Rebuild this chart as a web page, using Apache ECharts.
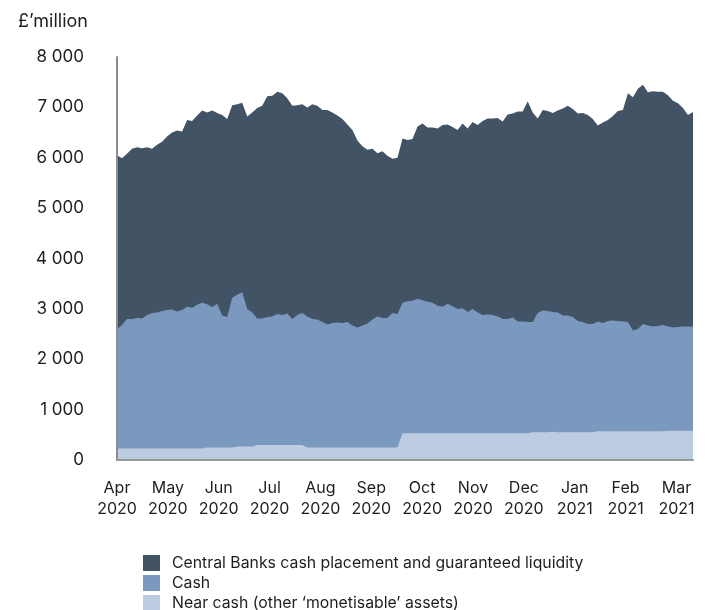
<!DOCTYPE html>
<html>
<head>
<meta charset="utf-8">
<script src="https://cdn.jsdelivr.net/npm/echarts@6/dist/echarts.min.js"></script>
<style>
  html, body { margin: 0; padding: 0; background: #fff; }
  #chart { width: 705px; height: 610px; }
</style>
</head>
<body>
<div id="chart"></div>
<script>
// month labels, evenly spaced along the x axis
const months = ['Apr\n2020', 'May\n2020', 'Jun\n2020', 'Jul\n2020', 'Aug\n2020', 'Sep\n2020',
    'Oct\n2020', 'Nov\n2020', 'Dec\n2020', 'Jan\n2021', 'Feb\n2021', 'Mar\n2021'];
const pointsPerMonth = 10.154; // samples between two month labels

// £m, stack tops (total, cash + near cash, near cash)
const totalLiquidity = [
    6050, 5990, 6080, 6180, 6210, 6190, 6210, 6180, 6260, 6320,
    6420, 6500, 6540, 6520, 6750, 6730, 6840, 6940, 6900, 6940,
    6890, 6850, 6770, 7040, 7060, 7090, 6820, 6900, 6990, 7030,
    7220, 7230, 7310, 7280, 7180, 7030, 7040, 7060, 7000, 7060,
    7030, 6950, 6950, 6900, 6840, 6770, 6660, 6550, 6340, 6230,
    6160, 6180, 6090, 6130, 6040, 5980, 6000, 6380, 6350, 6370,
    6620, 6680, 6600, 6600, 6580, 6650, 6660, 6610, 6550, 6680,
    6580, 6710, 6650, 6730, 6780, 6780, 6790, 6720, 6860, 6880,
    6920, 6920, 7120, 6900, 6780, 6950, 6930, 6890, 6940, 6980,
    7030, 6970, 6880, 6890, 6850, 6770, 6640, 6700, 6750, 6830,
    6930, 6950, 7280, 7200, 7370, 7450, 7300, 7320, 7310, 7310,
    7240, 7130, 7080, 6990, 6850, 6910
];
const cashAndNearCash = [
    2600, 2680, 2800, 2800, 2820, 2810, 2880, 2920, 2930, 2960,
    2980, 2990, 2950, 2980, 3040, 3020, 3080, 3120, 3090, 3030,
    3100, 2870, 2840, 3220, 3280, 3330, 3000, 2930, 2810, 2810,
    2840, 2850, 2900, 2880, 2910, 2800, 2880, 2920, 2850, 2800,
    2790, 2740, 2690, 2720, 2730, 2720, 2740, 2670, 2630, 2670,
    2710, 2790, 2850, 2820, 2820, 2920, 2900, 3120, 3150, 3160,
    3200, 3170, 3140, 3120, 3060, 3040, 3100, 3050, 3000, 3010,
    2940, 3000, 2930, 2880, 2890, 2880, 2850, 2800, 2800, 2830,
    2750, 2750, 2740, 2740, 2920, 2970, 2960, 2940, 2930, 2870,
    2870, 2840, 2760, 2740, 2700, 2700, 2750, 2720, 2760, 2770,
    2760, 2750, 2740, 2570, 2600, 2700, 2670, 2650, 2660, 2680,
    2650, 2630, 2640, 2650, 2650, 2650
];
const nearCash = [
    230, 230, 230, 230, 230, 230, 230, 230, 230, 230,
    230, 230, 230, 230, 230, 230, 230, 230, 250, 250,
    250, 250, 250, 250, 270, 270, 270, 270, 300, 300,
    300, 300, 300, 300, 300, 300, 300, 300, 250, 250,
    250, 250, 250, 250, 250, 250, 250, 250, 250, 250,
    250, 250, 250, 250, 250, 250, 250, 530, 530, 530,
    530, 530, 530, 530, 530, 530, 530, 530, 530, 530,
    530, 530, 530, 530, 530, 530, 530, 530, 530, 530,
    530, 530, 530, 550, 550, 550, 550, 560, 550, 550,
    550, 550, 550, 550, 550, 550, 570, 570, 570, 570,
    570, 570, 570, 570, 570, 570, 570, 570, 570, 570,
    580, 580, 580, 580, 580, 580
];

const textColor = '#1e1e1e';
const axisGray = '#8c8c8c';
const fontFamily = 'Inter, "Noto Sans", sans-serif';
const legendNames = ['Central Banks cash placement and guaranteed liquidity', 'Cash',
    'Near cash (other ‘monetisable’ assets)'];

function toPoints(arr) {
    return arr.map(function(v, i) {
        return [i, v];
    });
}

// arrays already hold the stack tops, so each area is filled down to zero,
// biggest first and the smaller ones drawn over it
function areaSeries(name, data, color, z) {
    return {
        name: name,
        type: 'line',
        z: z,
        data: toPoints(data),
        showSymbol: false,
        symbol: 'none',
        lineStyle: {width: 0},
        itemStyle: {color: color},
        areaStyle: {color: color, opacity: 1, origin: 'start'}
    };
}

const chart = echarts.init(document.getElementById('chart'));
const option = {
    animation: false,
    textStyle: {fontFamily: fontFamily},
    title: {
        text: '£’million',
        left: 13,
        top: 8,
        textStyle: {fontSize: 18, fontWeight: 'normal', color: textColor, fontFamily: fontFamily}
    },
    legend: {
        orient: 'vertical',
        left: 138,
        top: 550,
        height: 90,
        itemWidth: 17,
        itemHeight: 16,
        itemGap: 4,
        icon: 'rect',
        data: legendNames,
        textStyle: {fontSize: 15.8, color: textColor, fontFamily: fontFamily, padding: [0, 0, 0, 7]}
    },
    grid: {
        left: 117,
        right: 12,
        top: 57,
        bottom: 150
    },
    xAxis: {
        type: 'value',
        z: 10,
        min: 0,
        max: totalLiquidity.length - 1,
        interval: pointsPerMonth,
        axisLine: {show: true, lineStyle: {color: '#999999', width: 2}},
        axisTick: {show: false},
        splitLine: {show: false},
        axisLabel: {
            showMaxLabel: false,
            margin: 18,
            fontSize: 16,
            lineHeight: 21,
            color: textColor,
            fontFamily: fontFamily,
            formatter: function(v) {
                const k = Math.round(v / pointsPerMonth);
                if (Math.abs(v - k * pointsPerMonth) > 0.01) {
                    return '';
                }
                return months[k] || '';
            }
        }
    },
    yAxis: {
        type: 'value',
        z: 10,
        min: 0,
        max: 8000,
        interval: 1000,
        axisLine: {show: true, lineStyle: {color: axisGray, width: 2}},
        axisTick: {show: false},
        splitLine: {show: false},
        axisLabel: {
            margin: 33,
            fontSize: 17,
            color: textColor,
            fontFamily: fontFamily,
            formatter: function(v) {
                return String(v).replace(/\B(?=(\d{3})+(?!\d))/g, ' ');
            }
        }
    },
    series: [
        areaSeries(legendNames[0], totalLiquidity, '#435366', 2),
        areaSeries(legendNames[1], cashAndNearCash, '#7b99bf', 3),
        areaSeries(legendNames[2], nearCash, '#bdcce0', 4)
    ]
};
chart.setOption(option);
</script>
</body>
</html>
